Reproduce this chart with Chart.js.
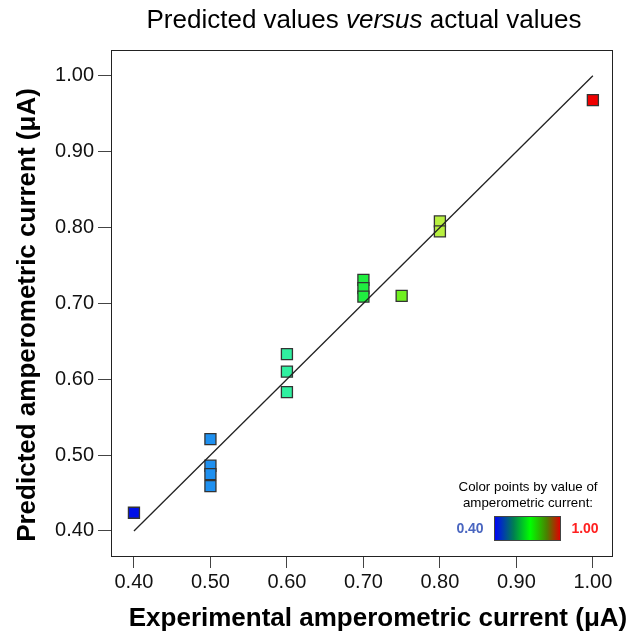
<!DOCTYPE html>
<html>
<head>
<meta charset="utf-8">
<script src="https://cdn.jsdelivr.net/npm/chart.js@4.4.0/dist/chart.umd.min.js"></script>
<style>
  html, body { margin: 0; padding: 0; background: #fff; }
  #wrap { width: 633px; height: 634px; }
</style>
</head>
<body>
<div id="wrap"><canvas id="myChart" width="633" height="634"></canvas></div>
<script>
// actual (experimental) vs predicted current, uA
const actual    = [0.40, 0.50, 0.50, 0.50, 0.50, 0.60, 0.60, 0.60, 0.70, 0.70, 0.70, 0.75, 0.80, 0.80, 1.00];
const predicted = [0.424, 0.521, 0.486, 0.475, 0.459, 0.633, 0.610, 0.583, 0.731, 0.720, 0.709, 0.710, 0.808, 0.795, 0.968];
const pointColors = ['#0010e8', '#1e90f0', '#1e90f0', '#1e90f0', '#1e90f0', '#30f0a0', '#30f0a0', '#30f0a0',
                     '#20ee40', '#20ee40', '#20ee40', '#70f020', '#b8f040', '#b8f040', '#f00000'];
const lineX = [0.40, 1.00];
const lineY = [0.40, 1.00];
const xTicks = [0.40, 0.50, 0.60, 0.70, 0.80, 0.90, 1.00];
const yTicks = [0.40, 0.50, 0.60, 0.70, 0.80, 0.90, 1.00];
const colorScaleLabels = ['0.40', '1.00'];
const xTitle = 'Experimental amperometric current (μA)';
const yTitle = 'Predicted amperometric current (μA)';

const FONT = '"Liberation Sans", Arial, sans-serif';

// draws the frame, titles and the colour-scale key
const decorations = {
    id: 'decorations',
    beforeDatasetsDraw(chart) {
        const { ctx, chartArea: a } = chart;
        ctx.save();
        ctx.strokeStyle = '#222';
        ctx.lineWidth = 1;
        ctx.strokeRect(Math.round(a.left) + 0.5, Math.round(a.top) + 0.5,
            Math.round(a.right - a.left), Math.round(a.bottom - a.top));
        ctx.restore();
    },
    afterDraw(chart) {
        const { ctx, chartArea: a } = chart;
        ctx.save();

        // title with italic "versus"
        const parts = [
            { t: 'Predicted values ', f: '26px ' + FONT },
            { t: 'versus', f: 'italic 26px ' + FONT },
            { t: ' actual values', f: '26px ' + FONT }
        ];
        let total = 0;
        parts.forEach(p => { ctx.font = p.f; p.w = ctx.measureText(p.t).width; total += p.w; });
        let x = 364 - total / 2;
        ctx.fillStyle = '#000';
        ctx.textBaseline = 'middle';
        ctx.textAlign = 'left';
        parts.forEach(p => { ctx.font = p.f; ctx.fillText(p.t, x, 21); x += p.w; });

        // axis titles
        ctx.textAlign = 'center';
        ctx.font = 'bold 26px ' + FONT;
        ctx.fillText(xTitle, 378, 619);
        ctx.save();
        ctx.translate(28, 315);
        ctx.rotate(-Math.PI / 2);
        ctx.fillText(yTitle, 0, 0);
        ctx.restore();

        // colour key
        ctx.font = '13.3px ' + FONT;
        ctx.fillText('Color points by value of', 528, 487);
        ctx.fillText('amperometric current:', 528, 503);

        const gx = 494, gy = 516, gw = 66, gh = 24;
        const g = ctx.createLinearGradient(gx, 0, gx + gw, 0);
        g.addColorStop(0, '#0000ff');
        g.addColorStop(0.3, '#008050');
        g.addColorStop(0.55, '#00ff00');
        g.addColorStop(0.8, '#4a8000');
        g.addColorStop(1, '#e00000');
        ctx.fillStyle = g;
        ctx.fillRect(gx, gy, gw, gh);
        ctx.strokeStyle = '#444';
        ctx.lineWidth = 1;
        ctx.strokeRect(gx + 0.5, gy + 0.5, gw, gh);

        ctx.font = 'bold 14px ' + FONT;
        ctx.fillStyle = '#4a66c0';
        ctx.fillText(colorScaleLabels[0], 470, 529);
        ctx.fillStyle = '#ff2020';
        ctx.fillText(colorScaleLabels[1], 585, 529);
        ctx.restore();
    }
};

document.addEventListener('DOMContentLoaded', () => {
    const ctx = document.getElementById('myChart').getContext('2d');

    const points = actual.map((v, i) => ({ x: v, y: predicted[i] }));
    const line = lineX.map((v, i) => ({ x: v, y: lineY[i] }));

    const tickFont = { family: FONT, size: 20 };

    new Chart(ctx, {
        type: 'scatter',
        data: {
            datasets: [
                {
                    type: 'line',
                    data: line,
                    borderColor: '#222',
                    borderWidth: 1.3,
                    pointRadius: 0,
                    fill: false,
                    order: 0
                },
                {
                    data: points,
                    pointStyle: 'rect',
                    pointRadius: 7.8,
                    backgroundColor: pointColors,
                    borderColor: '#333',
                    borderWidth: 1.3,
                    order: 1
                }
            ]
        },
        options: {
            responsive: false,
            animation: false,
            layout: { padding: { top: 50, right: 21, left: 0, bottom: 0 } },
            plugins: {
                legend: { display: false },
                tooltip: { enabled: false }
            },
            scales: {
                x: {
                    type: 'linear',
                    min: 0.37,
                    max: 1.025,
                    afterBuildTicks: s => { s.ticks = xTicks.map(v => ({ value: v })); },
                    afterFit: s => { s.height = 78; },
                    grid: { drawOnChartArea: false, drawTicks: true, tickLength: 12, color: '#444' },
                    border: { display: true, color: '#222' },
                    ticks: {
                        font: tickFont, color: '#111', padding: 2, maxRotation: 0,
                        callback: v => Number(v).toFixed(2)
                    },
                    title: { display: false }
                },
                y: {
                    type: 'linear',
                    min: 0.367,
                    max: 1.034,
                    afterBuildTicks: s => { s.ticks = yTicks.map(v => ({ value: v })); },
                    afterFit: s => { s.width = 111; },
                    grid: { drawOnChartArea: false, drawTicks: true, tickLength: 13, color: '#444' },
                    border: { display: true, color: '#222' },
                    ticks: {
                        font: tickFont, color: '#111', padding: 4,
                        callback: v => Number(v).toFixed(2)
                    },
                    title: { display: false }
                }
            }
        },
        plugins: [decorations]
    });
});
</script>
</body>
</html>
